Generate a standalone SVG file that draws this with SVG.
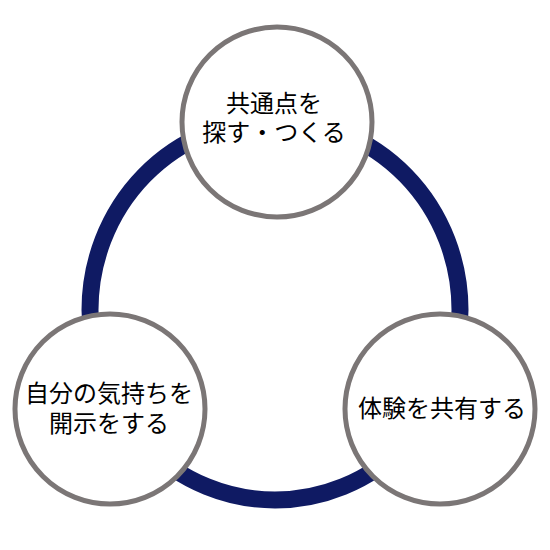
<svg xmlns="http://www.w3.org/2000/svg" width="550" height="550" viewBox="0 0 550 550">
<style>
.ring{fill:none;stroke:#0f1a63;stroke-width:17}
.node circle{fill:#ffffff;stroke:#7b7676;stroke-width:5}
.node text{font-family:"Noto Sans CJK JP","Noto Sans",sans-serif;font-size:24px;fill:#000000;text-anchor:middle}
</style>
<rect width="550" height="550" fill="#ffffff"/>
<g id="connectors">
<ellipse class="ring" cx="275" cy="310" rx="185" ry="190"/>
</g>
<g id="node-top" class="node">
<circle cx="277" cy="122" r="95"/>
<text x="274" y="112">共通点を</text>
<text x="274" y="141">探す・つくる</text>
</g>
<g id="node-left" class="node">
<circle cx="110" cy="409" r="95"/>
<text x="109" y="402">自分の気持ちを</text>
<text x="109" y="432">開示をする</text>
</g>
<g id="node-right" class="node">
<circle cx="440" cy="409" r="95"/>
<text x="442" y="417">体験を共有する</text>
</g>
</svg>
